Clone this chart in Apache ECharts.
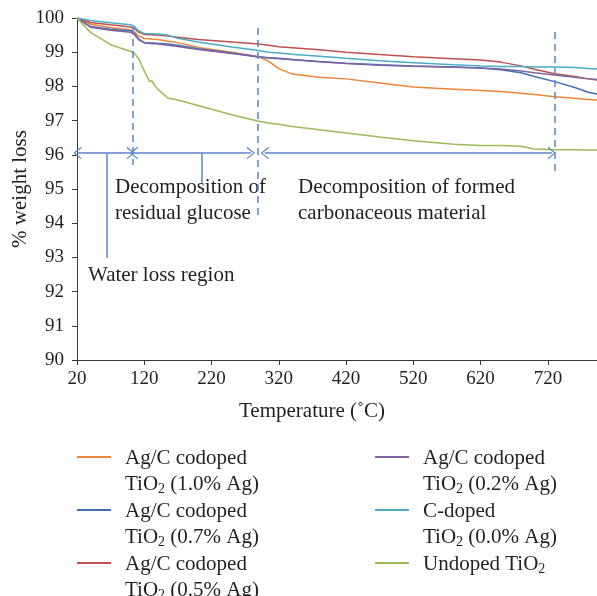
<!DOCTYPE html>
<html>
<head>
<meta charset="utf-8">
<script src="https://cdn.jsdelivr.net/npm/echarts@6/dist/echarts.min.js"></script>
<style>
  html, body { margin: 0; padding: 0; background: #fff; }
  #tga { width: 597px; height: 596px; }
</style>
</head>
<body>
<div id="tga"></div>
<script>
// temperatures (°C), shared by all curves
const temps = [20, 40, 70, 100, 105, 112, 120, 128, 131, 134, 140, 155, 170, 200, 250, 290, 305, 320, 340, 380, 420, 470, 520, 580, 620, 650, 680, 700, 730, 760, 780, 793];

// % weight remaining, one list per sample
const ag10 = [100, 99.82, 99.72, 99.65, 99.6, 99.47, 99.4, 99.39, 99.38, 99.38, 99.37, 99.32, 99.28, 99.14, 99.0, 98.87, 98.73, 98.52, 98.36, 98.27, 98.22, 98.1, 97.98, 97.92, 97.88, 97.85, 97.8, 97.76, 97.7, 97.65, 97.62, 97.6];
const ag07 = [100, 99.75, 99.67, 99.62, 99.55, 99.38, 99.28, 99.27, 99.27, 99.27, 99.26, 99.24, 99.2, 99.1, 98.98, 98.87, 98.84, 98.82, 98.79, 98.73, 98.68, 98.63, 98.6, 98.57, 98.54, 98.49, 98.4, 98.29, 98.14, 97.97, 97.83, 97.78];
const ag05 = [100, 99.87, 99.8, 99.74, 99.7, 99.58, 99.52, 99.51, 99.51, 99.5, 99.5, 99.47, 99.44, 99.37, 99.3, 99.24, 99.2, 99.16, 99.13, 99.07, 99.0, 98.93, 98.87, 98.81, 98.77, 98.71, 98.6, 98.5, 98.37, 98.29, 98.22, 98.19];
const ag02 = [100, 99.73, 99.64, 99.58, 99.52, 99.36, 99.27, 99.26, 99.25, 99.25, 99.24, 99.2, 99.17, 99.08, 98.96, 98.86, 98.83, 98.81, 98.78, 98.72, 98.67, 98.62, 98.59, 98.56, 98.54, 98.51, 98.45, 98.4, 98.33, 98.27, 98.22, 98.2];
const ag00 = [100, 99.93, 99.86, 99.8, 99.76, 99.62, 99.55, 99.54, 99.54, 99.54, 99.53, 99.5, 99.41, 99.3, 99.15, 99.05, 99.0, 98.98, 98.94, 98.88, 98.82, 98.75, 98.69, 98.63, 98.6, 98.58, 98.58, 98.57, 98.57, 98.55, 98.52, 98.51];
const undoped = [100, 99.58, 99.22, 99.02, 98.98, 98.8, 98.45, 98.13, 98.17, 98.07, 97.92, 97.66, 97.6, 97.44, 97.17, 96.98, 96.93, 96.89, 96.83, 96.73, 96.64, 96.52, 96.41, 96.31, 96.27, 96.27, 96.25, 96.17, 96.15, 96.15, 96.14, 96.14];

const names = [
  'Ag/C codoped TiO2 (1.0% Ag)',
  'Ag/C codoped TiO2 (0.7% Ag)',
  'Ag/C codoped TiO2 (0.5% Ag)',
  'Ag/C codoped TiO2 (0.2% Ag)',
  'C-doped TiO2 (0.0% Ag)',
  'Undoped TiO2'
];
const values = [ag10, ag07, ag05, ag02, ag00, undoped];
const colors = ['#EC8439', '#3F6FB5', '#C0504D', '#8064A2', '#4BACC6', '#9BBB59'];

// region markers (°C)
const regionBounds = [103, 289, 730];
const xTicks = [20, 120, 220, 320, 420, 520, 620, 720];

const serif = 'Liberation Serif';
const ink = '#231F20';
const annot = '#5B87C5';

let myChart = echarts.init(document.getElementById('tga'));

const legendLabel = {
  'Ag/C codoped TiO2 (1.0% Ag)': 'Ag/C codoped\nTiO{s|2} (1.0% Ag)',
  'Ag/C codoped TiO2 (0.7% Ag)': 'Ag/C codoped\nTiO{s|2} (0.7% Ag)',
  'Ag/C codoped TiO2 (0.5% Ag)': 'Ag/C codoped\nTiO{s|2} (0.5% Ag)',
  'Ag/C codoped TiO2 (0.2% Ag)': 'Ag/C codoped\nTiO{s|2} (0.2% Ag)',
  'C-doped TiO2 (0.0% Ag)': 'C-doped\nTiO{s|2} (0.0% Ag)',
  'Undoped TiO2': 'Undoped TiO{s|2}\n '
};

const legendBase = {
  orient: 'vertical',
  padding: 0,
  height: 300,
  itemGap: 1,
  itemWidth: 43,
  itemHeight: 30,
  // short line at the top of the icon box so it sits level with the first text line
  icon: 'path://M0,0h34v2h-34z M43,30h0.01v0.01h-0.01z',
  itemStyle: { borderWidth: 0 },
  selectedMode: false,
  formatter: n => legendLabel[n],
  textStyle: {
    fontFamily: serif,
    fontSize: 21,
    color: ink,
    lineHeight: 26,
    rich: {
      s: { fontFamily: serif, fontSize: 14, color: ink, padding: [10, 0, 0, 0] }
    }
  }
};

const lineSeries = names.map((n, i) => ({
  name: n,
  type: 'line',
  showSymbol: false,
  symbol: 'none',
  color: colors[i],
  lineStyle: { width: 1.5, color: colors[i] },
  data: temps.map((t, j) => [t, values[i][j]]),
  z: 3
}));

const chevron = 'path://M0,100 L50,0 L100,100 L88,100 L50,22 L12,100 Z';

let option = {
  animation: false,
  grid: { left: 77, right: 0, top: 18, bottom: 236, containLabel: false, outerBoundsMode: 'none' },
  xAxis: {
    type: 'value',
    min: 20,
    max: 793,
    interval: 100,
    name: 'Temperature (˚C)',
    nameLocation: 'middle',
    nameGap: 41,
    nameMoveOverlap: false,
    nameTextStyle: { fontFamily: serif, fontSize: 21, color: ink, padding: [0, 50, 0, 0] },
    axisLine: { lineStyle: { color: '#3a3a3a', width: 1 } },
    axisTick: { show: true, length: 5, lineStyle: { color: '#3a3a3a' } },
    axisLabel: {
      fontFamily: serif, fontSize: 19, color: ink, margin: 10,
      showMaxLabel: false,
      formatter: v => (xTicks.indexOf(v) >= 0 ? String(v) : '')
    },
    splitLine: { show: false }
  },
  yAxis: {
    type: 'value',
    min: 90,
    max: 100,
    interval: 1,
    name: '% weight loss',
    nameLocation: 'middle',
    nameGap: 46,
    nameMoveOverlap: false,
    nameTextStyle: { fontFamily: serif, fontSize: 21, color: ink },
    axisLine: { show: true, lineStyle: { color: '#3a3a3a', width: 1 } },
    axisTick: { show: true, length: 5, lineStyle: { color: '#3a3a3a' } },
    axisLabel: { fontFamily: serif, fontSize: 19, color: ink, margin: 13 },
    splitLine: { show: false }
  },
  legend: [
    Object.assign({}, legendBase, { left: 77, top: 445, data: names.slice(0, 3) }),
    Object.assign({}, legendBase, { left: 375, top: 445, data: names.slice(3) })
  ],
  series: lineSeries.concat([
    {
      // dashed region boundaries
      name: 'bounds', type: 'line', data: [], silent: true,
      markLine: {
        silent: true, symbol: ['none', 'none'], label: { show: false },
        lineStyle: { type: [7, 5], color: annot, width: 1.5 },
        emphasis: { disabled: true },
        data: [
          [{ coord: [regionBounds[0], 99.74] }, { coord: [regionBounds[0], 95.7] }],
          [{ coord: [regionBounds[1], 99.71] }, { coord: [regionBounds[1], 94.09] }],
          [{ coord: [regionBounds[2], 99.59] }, { coord: [regionBounds[2], 95.5] }]
        ]
      }
    },
    {
      // double-headed range arrows
      name: 'ranges', type: 'line', data: [], silent: true,
      markLine: {
        silent: true, symbol: [chevron, chevron], symbolSize: [13, 8],
        label: { show: false },
        lineStyle: { type: 'solid', color: annot, width: 1.5 },
        emphasis: { disabled: true },
        data: [
          [{ coord: [20.5, 96.05] }, { coord: [100, 96.05] }],
          [{ coord: [104.5, 96.05] }, { coord: [278.5, 96.05] }],
          [{ coord: [299, 96.05] }, { coord: [726, 96.05] }]
        ]
      }
    },
    {
      // leader lines to the region labels
      name: 'leaders', type: 'line', data: [], silent: true,
      markLine: {
        silent: true, symbol: ['none', 'none'], label: { show: false },
        lineStyle: { type: 'solid', color: annot, width: 1.5 },
        emphasis: { disabled: true },
        data: [
          [{ coord: [64.6, 96.05] }, { coord: [64.6, 92.98] }],
          [{ coord: [205.7, 96.05] }, { coord: [205.7, 95.18] }]
        ]
      }
    }
  ]),
  graphic: [
    { type: 'text', left: 115, top: 174, style: { text: 'Decomposition of\nresidual glucose', font: '21px "Liberation Serif"', fill: ink, lineHeight: 26 } },
    { type: 'text', left: 298, top: 174, style: { text: 'Decomposition of formed\ncarbonaceous material', font: '21px "Liberation Serif"', fill: ink, lineHeight: 26 } },
    { type: 'text', left: 88, top: 265, style: { text: 'Water loss region', font: '21px "Liberation Serif"', fill: ink } }
  ]
};
myChart.setOption(option);
</script>
</body>
</html>
